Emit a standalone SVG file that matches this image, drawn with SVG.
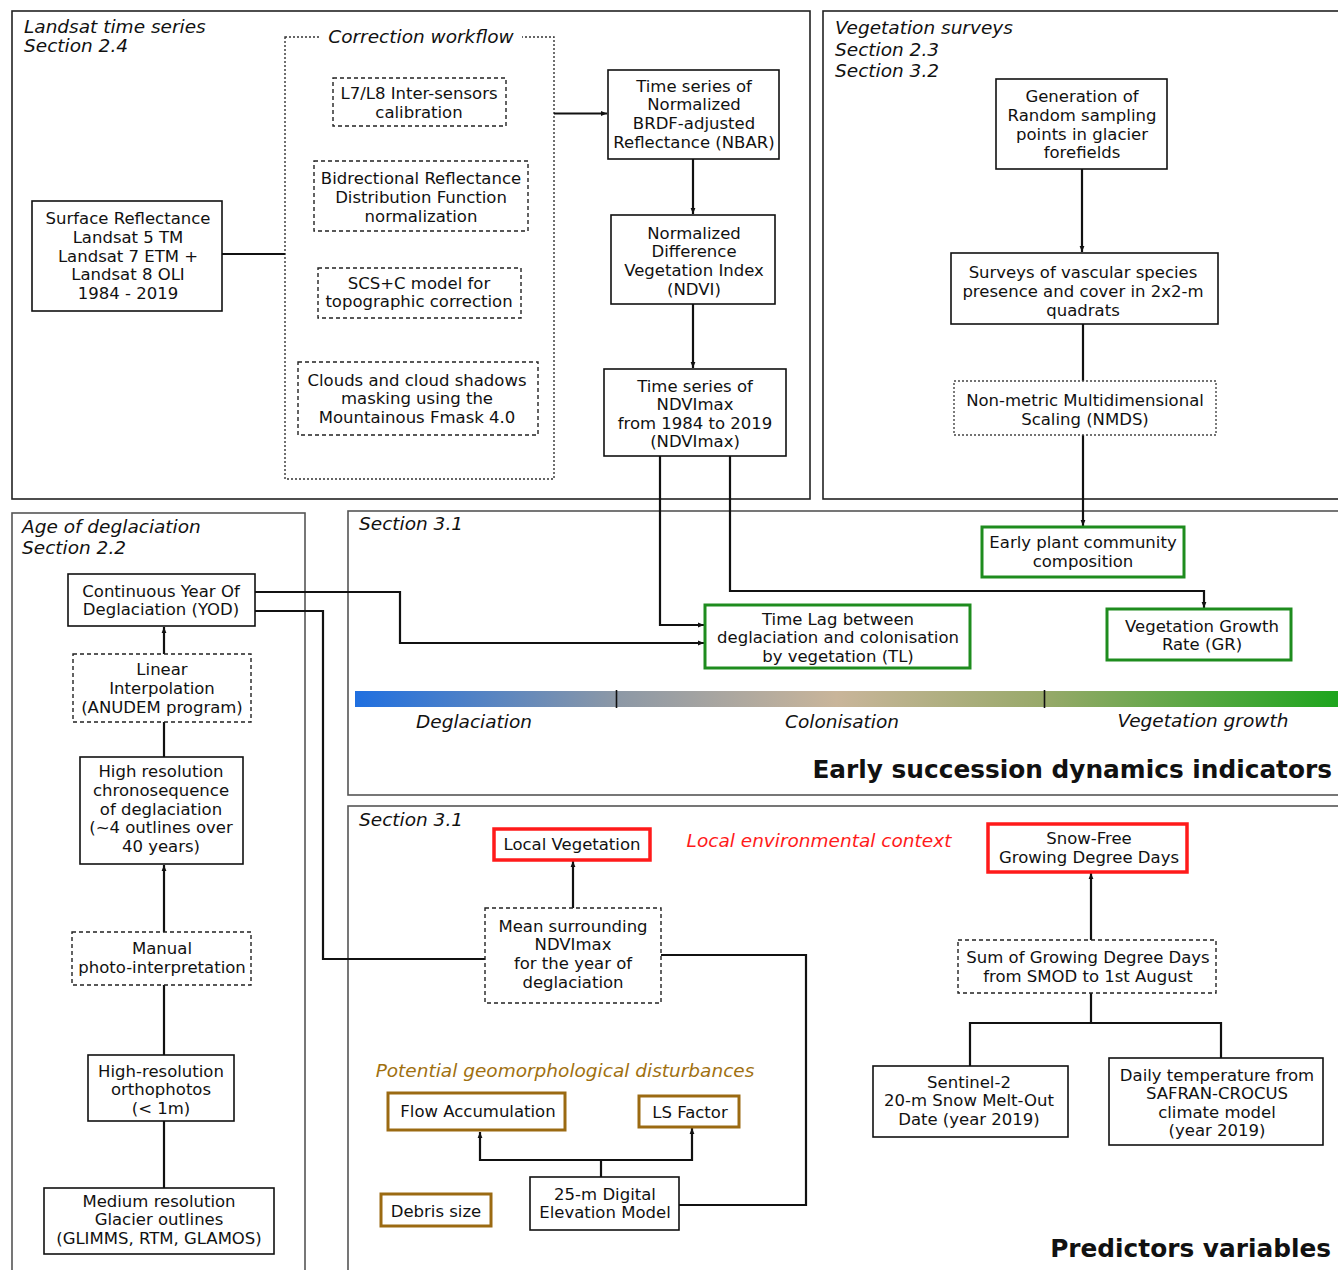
<svg xmlns="http://www.w3.org/2000/svg" width="1338" height="1270" viewBox="0 0 1338 1270">
<style>
text{font-family:"DejaVu Sans","Verdana",sans-serif;fill:#111}
.t{font-size:16.5px;text-anchor:middle}
.it{font-size:18.5px;font-style:italic}
.bd{font-size:24.8px;font-weight:bold;text-anchor:end}
.frame{fill:none;stroke:#222;stroke-width:1.6}
.frame2{fill:none;stroke:#555;stroke-width:1.6}
.box{fill:#fff;stroke:#111;stroke-width:1.6}
.dash{fill:#fff;stroke:#222;stroke-width:1.4;stroke-dasharray:4 3}
.dot{fill:#fff;stroke:#444;stroke-width:1.4;stroke-dasharray:2 2}
.green{fill:#fff;stroke:#1e8c1e;stroke-width:3}
.red{fill:#fff;stroke:#ff1a1a;stroke-width:3.5}
.brown{fill:#fff;stroke:#9b6a12;stroke-width:3}
.c{fill:none;stroke:#111;stroke-width:2.2}
.ca{fill:none;stroke:#111;stroke-width:2.2;marker-end:url(#ah)}
</style>
<defs>
<marker id="ah" viewBox="0 0 10 10" refX="10" refY="5" markerWidth="8" markerHeight="6" markerUnits="userSpaceOnUse" orient="auto">
<path d="M0,1 L10,5 L0,9 Z" fill="#111"/>
</marker>
<linearGradient id="grad" gradientUnits="userSpaceOnUse" x1="355" y1="0" x2="1338" y2="0">
<stop offset="0" stop-color="#1f6fe0"/>
<stop offset="0.265" stop-color="#8c98a6"/>
<stop offset="0.49" stop-color="#c9b59a"/>
<stop offset="0.70" stop-color="#98a96a"/>
<stop offset="1" stop-color="#1ea51e"/>
</linearGradient>
</defs>
<rect width="1338" height="1270" fill="#fff"/>

<!-- Frames -->
<g id="frame-landsat">
<rect class="frame" x="12" y="11" width="798" height="488"/>
<text class="it" x="24" y="33">Landsat time series</text>
<text class="it" x="24" y="52">Section 2.4</text>
</g>
<g id="frame-veg">
<rect class="frame" x="823" y="11" width="520" height="488"/>
<text class="it" x="835" y="34">Vegetation surveys</text>
<text class="it" x="835" y="56">Section 2.3</text>
<text class="it" x="835" y="77">Section 3.2</text>
</g>
<g id="frame-age">
<rect class="frame2" x="12" y="513" width="293" height="770"/>
<text class="it" x="22" y="533">Age of deglaciation</text>
<text class="it" x="22" y="554">Section 2.2</text>
</g>
<g id="frame-indicators">
<rect class="frame2" x="348" y="511" width="1000" height="284"/>
<text class="it" x="359" y="530">Section 3.1</text>
<text class="bd" x="1332" y="778">Early succession dynamics indicators</text>
</g>
<g id="frame-predictors">
<rect class="frame2" x="348" y="806" width="1000" height="480"/>
<text class="it" x="359" y="826">Section 3.1</text>
<text class="bd" x="1331" y="1257">Predictors variables</text>
</g>
<g id="correction-workflow">
<rect x="285" y="37" width="269" height="442" fill="none" stroke="#333" stroke-width="1.4" stroke-dasharray="2 2"/>
<rect x="320" y="26" width="202" height="22" fill="#fff"/>
<text class="it" x="421" y="43" text-anchor="middle">Correction workflow</text>
</g>

<!-- Gradient bar -->
<g id="gradient-bar">
<rect x="355" y="691" width="983" height="16" fill="url(#grad)"/>
<line x1="616.5" y1="690" x2="616.5" y2="708" stroke="#111" stroke-width="1.6"/>
<line x1="1044.5" y1="690" x2="1044.5" y2="708" stroke="#111" stroke-width="1.6"/>
<text class="it" x="474" y="728" text-anchor="middle">Deglaciation</text>
<text class="it" x="842" y="728" text-anchor="middle">Colonisation</text>
<text class="it" x="1203" y="727" text-anchor="middle">Vegetation growth</text>
</g>

<!-- Connectors -->
<g id="connectors">
<path class="c" d="M222,254 H285"/>
<path class="ca" d="M554,113.5 H607"/>
<path class="ca" d="M693,159 V214"/>
<path class="ca" d="M693,304 V368"/>
<path class="ca" d="M1082,169 V252"/>
<path class="c" d="M1083,324 V381"/>
<path class="ca" d="M1083,435 V526"/>
<path class="ca" d="M660,456 V625 H704"/>
<path class="ca" d="M730,456 V591 H1204 V608"/>
<path class="ca" d="M255,592 H400 V643 H704"/>
<path class="c" d="M255,611 H323 V959 H485"/>
<path class="ca" d="M573,908 V861"/>
<path class="c" d="M661,955 H806 V1205 H679"/>
<path class="c" d="M601,1177 V1160"/>
<path class="ca" d="M601,1160 H480 V1132"/>
<path class="ca" d="M601,1160 H692 V1128"/>
<path class="ca" d="M1091,940 V873"/>
<path class="c" d="M1091,993 V1023"/>
<path class="c" d="M970,1066 V1023 H1221 V1058"/>
<path class="ca" d="M164,654 V627"/>
<path class="c" d="M164,722 V757"/>
<path class="ca" d="M164,932 V865"/>
<path class="c" d="M164,985 V1055"/>
<path class="c" d="M164,1121 V1188"/>
</g>

<!-- Landsat nodes -->
<g id="n-surface">
<rect class="box" x="32" y="201" width="190" height="110"/>
<text class="t"><tspan x="128" y="224">Surface Reflectance</tspan><tspan x="128" y="243">Landsat 5 TM</tspan><tspan x="128" y="262">Landsat 7 ETM +</tspan><tspan x="128" y="280">Landsat 8 OLI</tspan><tspan x="128" y="299">1984 - 2019</tspan></text>
</g>
<g id="n-l7l8">
<rect class="dash" x="333" y="78" width="173" height="48"/>
<text class="t"><tspan x="419" y="99">L7/L8 Inter-sensors</tspan><tspan x="419" y="118">calibration</tspan></text>
</g>
<g id="n-brdf">
<rect class="dash" x="314" y="161" width="214" height="70"/>
<text class="t"><tspan x="421" y="184">Bidrectional Reflectance</tspan><tspan x="421" y="203">Distribution Function</tspan><tspan x="421" y="222">normalization</tspan></text>
</g>
<g id="n-scs">
<rect class="dash" x="318" y="268" width="203" height="50"/>
<text class="t"><tspan x="419" y="289">SCS+C model for</tspan><tspan x="419" y="307">topographic correction</tspan></text>
</g>
<g id="n-clouds">
<rect class="dash" x="298" y="362" width="240" height="73"/>
<text class="t"><tspan x="417" y="386">Clouds and cloud shadows</tspan><tspan x="417" y="404">masking using the</tspan><tspan x="417" y="423">Mountainous Fmask 4.0</tspan></text>
</g>
<g id="n-nbar">
<rect class="box" x="608" y="70" width="171" height="89"/>
<text class="t"><tspan x="694" y="92">Time series of</tspan><tspan x="694" y="110">Normalized</tspan><tspan x="694" y="129">BRDF-adjusted</tspan><tspan x="694" y="148">Reflectance (NBAR)</tspan></text>
</g>
<g id="n-ndvi">
<rect class="box" x="611" y="215" width="164" height="89"/>
<text class="t"><tspan x="694" y="239">Normalized</tspan><tspan x="694" y="257">Difference</tspan><tspan x="694" y="276">Vegetation Index</tspan><tspan x="694" y="295">(NDVI)</tspan></text>
</g>
<g id="n-ndvimax">
<rect class="box" x="604" y="369" width="182" height="87"/>
<text class="t"><tspan x="695" y="392">Time series of</tspan><tspan x="695" y="410">NDVImax</tspan><tspan x="695" y="429">from 1984 to 2019</tspan><tspan x="695" y="447">(NDVImax)</tspan></text>
</g>

<!-- Vegetation survey nodes -->
<g id="n-generation">
<rect class="box" x="996" y="79" width="171" height="90"/>
<text class="t"><tspan x="1082" y="102">Generation of</tspan><tspan x="1082" y="121">Random sampling</tspan><tspan x="1082" y="140">points in glacier</tspan><tspan x="1082" y="158">forefields</tspan></text>
</g>
<g id="n-surveys">
<rect class="box" x="951" y="253" width="267" height="71"/>
<text class="t"><tspan x="1083" y="278">Surveys of vascular species</tspan><tspan x="1083" y="297">presence and cover in 2x2-m</tspan><tspan x="1083" y="316">quadrats</tspan></text>
</g>
<g id="n-nmds">
<rect class="dot" x="954" y="381" width="262" height="54"/>
<text class="t"><tspan x="1085" y="406">Non-metric Multidimensional</tspan><tspan x="1085" y="425">Scaling (NMDS)</tspan></text>
</g>

<!-- Indicators -->
<g id="n-early-plant">
<rect class="green" x="982" y="527" width="202" height="50"/>
<text class="t"><tspan x="1083" y="548">Early plant community</tspan><tspan x="1083" y="567">composition</tspan></text>
</g>
<g id="n-timelag">
<rect class="green" x="705" y="605" width="265" height="63"/>
<text class="t"><tspan x="838" y="625">Time Lag between</tspan><tspan x="838" y="643">deglaciation and colonisation</tspan><tspan x="838" y="662">by vegetation (TL)</tspan></text>
</g>
<g id="n-growth">
<rect class="green" x="1107" y="609" width="184" height="51"/>
<text class="t"><tspan x="1202" y="632">Vegetation Growth</tspan><tspan x="1202" y="650">Rate (GR)</tspan></text>
</g>

<!-- Age of deglaciation nodes -->
<g id="n-yod">
<rect class="box" x="68" y="574" width="187" height="52"/>
<text class="t"><tspan x="161" y="597">Continuous Year Of</tspan><tspan x="161" y="615">Deglaciation (YOD)</tspan></text>
</g>
<g id="n-linear">
<rect class="dash" x="73" y="654" width="178" height="68"/>
<text class="t"><tspan x="162" y="675">Linear</tspan><tspan x="162" y="694">Interpolation</tspan><tspan x="162" y="713">(ANUDEM program)</tspan></text>
</g>
<g id="n-highres">
<rect class="box" x="80" y="757" width="163" height="107"/>
<text class="t"><tspan x="161" y="777">High resolution</tspan><tspan x="161" y="796">chronosequence</tspan><tspan x="161" y="815">of deglaciation</tspan><tspan x="161" y="833">(~4 outlines over</tspan><tspan x="161" y="852">40 years)</tspan></text>
</g>
<g id="n-manual">
<rect class="dash" x="72" y="932" width="179" height="53"/>
<text class="t"><tspan x="162" y="954">Manual</tspan><tspan x="162" y="973">photo-interpretation</tspan></text>
</g>
<g id="n-ortho">
<rect class="box" x="88" y="1055" width="146" height="66"/>
<text class="t"><tspan x="161" y="1077">High-resolution</tspan><tspan x="161" y="1095">orthophotos</tspan><tspan x="161" y="1114">(&lt; 1m)</tspan></text>
</g>
<g id="n-medium">
<rect class="box" x="44" y="1188" width="230" height="66"/>
<text class="t"><tspan x="159" y="1207">Medium resolution</tspan><tspan x="159" y="1225">Glacier outlines</tspan><tspan x="159" y="1244">(GLIMMS, RTM, GLAMOS)</tspan></text>
</g>

<!-- Predictors -->
<text class="it" x="819" y="847" text-anchor="middle" style="fill:#ff1a1a">Local environmental context</text>
<text class="it" x="565" y="1077" text-anchor="middle" style="fill:#a0700f">Potential geomorphological disturbances</text>
<g id="n-localveg">
<rect class="red" x="494" y="829" width="156" height="31"/>
<text class="t" x="572" y="850">Local Vegetation</text>
</g>
<g id="n-mean">
<rect class="dash" x="485" y="908" width="176" height="95"/>
<text class="t"><tspan x="573" y="932">Mean surrounding</tspan><tspan x="573" y="950">NDVImax</tspan><tspan x="573" y="969">for the year of</tspan><tspan x="573" y="988">deglaciation</tspan></text>
</g>
<g id="n-flow">
<rect class="brown" x="388" y="1093" width="177" height="37"/>
<text class="t" x="478" y="1117">Flow Accumulation</text>
</g>
<g id="n-ls">
<rect class="brown" x="639" y="1096" width="100" height="31"/>
<text class="t" x="690" y="1118">LS Factor</text>
</g>
<g id="n-debris">
<rect class="brown" x="381" y="1194" width="110" height="32"/>
<text class="t" x="436" y="1217">Debris size</text>
</g>
<g id="n-dem">
<rect class="box" x="530" y="1177" width="149" height="53"/>
<text class="t"><tspan x="605" y="1200">25-m Digital</tspan><tspan x="605" y="1218">Elevation Model</tspan></text>
</g>
<g id="n-snowfree">
<rect class="red" x="988" y="824" width="199" height="48"/>
<text class="t"><tspan x="1089" y="844">Snow-Free</tspan><tspan x="1089" y="863">Growing Degree Days</tspan></text>
</g>
<g id="n-sumgdd">
<rect class="dash" x="958" y="940" width="258" height="53"/>
<text class="t"><tspan x="1088" y="963">Sum of Growing Degree Days</tspan><tspan x="1088" y="982">from SMOD to 1st August</tspan></text>
</g>
<g id="n-sentinel">
<rect class="box" x="873" y="1066" width="195" height="71"/>
<text class="t"><tspan x="969" y="1088">Sentinel-2</tspan><tspan x="969" y="1106">20-m Snow Melt-Out</tspan><tspan x="969" y="1125">Date (year 2019)</tspan></text>
</g>
<g id="n-daily">
<rect class="box" x="1109" y="1058" width="214" height="87"/>
<text class="t"><tspan x="1217" y="1081">Daily temperature from</tspan><tspan x="1217" y="1099">SAFRAN-CROCUS</tspan><tspan x="1217" y="1118">climate model</tspan><tspan x="1217" y="1136">(year 2019)</tspan></text>
</g>
</svg>
